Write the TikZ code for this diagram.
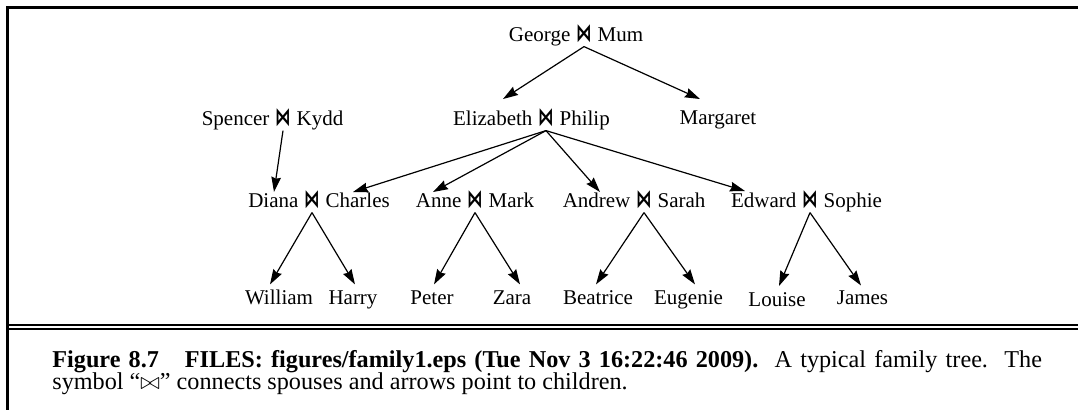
\documentclass[tikz,border=0pt]{standalone}
\usepackage{fontspec}
\setmainfont{Liberation Serif}
\newfontfamily\djv{DejaVu Sans}
\usetikzlibrary{arrows.meta}
\tikzset{
  lbl/.style={inner sep=0pt, font=\fontsize{10.5}{12}\selectfont, anchor=base},
  jn/.style={inner xsep=0pt, inner ysep=2pt, font=\djv\bfseries\fontsize{7.8}{9}\selectfont, anchor=base},
  arr/.style={line width=0.6pt, -{Stealth[length=7.5pt,width=4.8pt,inset=0.8pt]}},
  frame/.style={line width=1.05pt, line cap=rect},
  captxt/.style={inner sep=0pt, font=\fontsize{12.1}{11.5}\selectfont, anchor=base west, align=left}
}
\newcommand\mkcouple[5]{%
  \node[jn] (#1) at (#2,#3) {\scalebox{1}[1.6]{⋈}};
  \node[lbl,anchor=base east] (#1-l) at ([xshift=-2.5pt]#1.base west) {#4};
  \node[lbl,anchor=base west] (#1-r) at ([xshift=2.5pt]#1.base east) {#5};}
\begin{document}
\begin{tikzpicture}[x=0.5pt,y=-0.5pt]
\useasboundingbox (0,0) rectangle (1078,409);
% frame
\draw[frame] (7.5,412) -- (7.5,7.5) -- (1082,7.5);
\draw[frame] (7.5,325.4) -- (1082,325.4);
\draw[frame] (7.5,329.2) -- (1082,329.2);
% couples
\mkcouple{gm}{584}{41}{George}{Mum}
\mkcouple{sk}{283}{125}{Spencer}{Kydd}
\mkcouple{ep}{546}{125}{Elizabeth}{Philip}
\node[lbl] (mg) at (718,124) {Margaret};
\mkcouple{dc}{312}{207}{Diana}{Charles}
\mkcouple{am}{475}{207}{Anne}{Mark}
\mkcouple{as}{644}{207}{Andrew}{Sarah}
\mkcouple{es}{810}{207}{Edward}{Sophie}
% children
\node[lbl] (wil) at (279,304.3) {William};
\node[lbl] (har) at (353,304.3) {Harry};
\node[lbl] (pet) at (432,304.3) {Peter};
\node[lbl] (zar) at (512,304.3) {Zara};
\node[lbl] (bea) at (598,304.3) {Beatrice};
\node[lbl] (eug) at (688.5,304.3) {Eugenie};
\node[lbl] (lou) at (777,306) {Louise};
\node[lbl] (jam) at (862.5,304.3) {James};
% arrow tips
\coordinate (t-ep) at (503,99);
\coordinate (t-mg) at (700,99);
\coordinate (t-dc1) at (274,192);
\coordinate (t-dc2) at (353,192);
\coordinate (t-am) at (433,192);
\coordinate (t-as) at (600,192);
\coordinate (t-es) at (745,191);
\coordinate (t-wil) at (270,284.4);
\coordinate (t-har) at (355,284.4);
\coordinate (t-pet) at (434,284.4);
\coordinate (t-zar) at (520,284.4);
\coordinate (t-bea) at (596,284.4);
\coordinate (t-eug) at (695,284.4);
\coordinate (t-lou) at (779,286);
\coordinate (t-jam) at (861,285.5);
% arrows
\draw[arr] (gm.south) -- (t-ep);
\draw[arr] (gm.south) -- (t-mg);
\draw[arr] (sk.south) -- (t-dc1);
\draw[arr] (ep.south) -- (t-dc2);
\draw[arr] (ep.south) -- (t-am);
\draw[arr] (ep.south) -- (t-as);
\draw[arr] (ep.south) -- (t-es);
\draw[arr] (dc.south) -- (t-wil);
\draw[arr] (dc.south) -- (t-har);
\draw[arr] (am.south) -- (t-pet);
\draw[arr] (am.south) -- (t-zar);
\draw[arr] (as.south) -- (t-bea);
\draw[arr] (as.south) -- (t-eug);
\draw[arr] (es.south) -- (t-lou);
\draw[arr] (es.south) -- (t-jam);
% caption
\node[captxt] (cap1) at (52,367) {\hbox to 494.8pt{\bfseries Figure 8.7\hspace{13pt}FILES: figures/family1.eps (Tue Nov 3 16:22:46 2009).\mdseries\ \ A typical family tree.\ \ The}};
\node[captxt] (cap2) at (52,389) {symbol “$\bowtie$” connects spouses and arrows point to children.};
\end{tikzpicture}
\end{document}
